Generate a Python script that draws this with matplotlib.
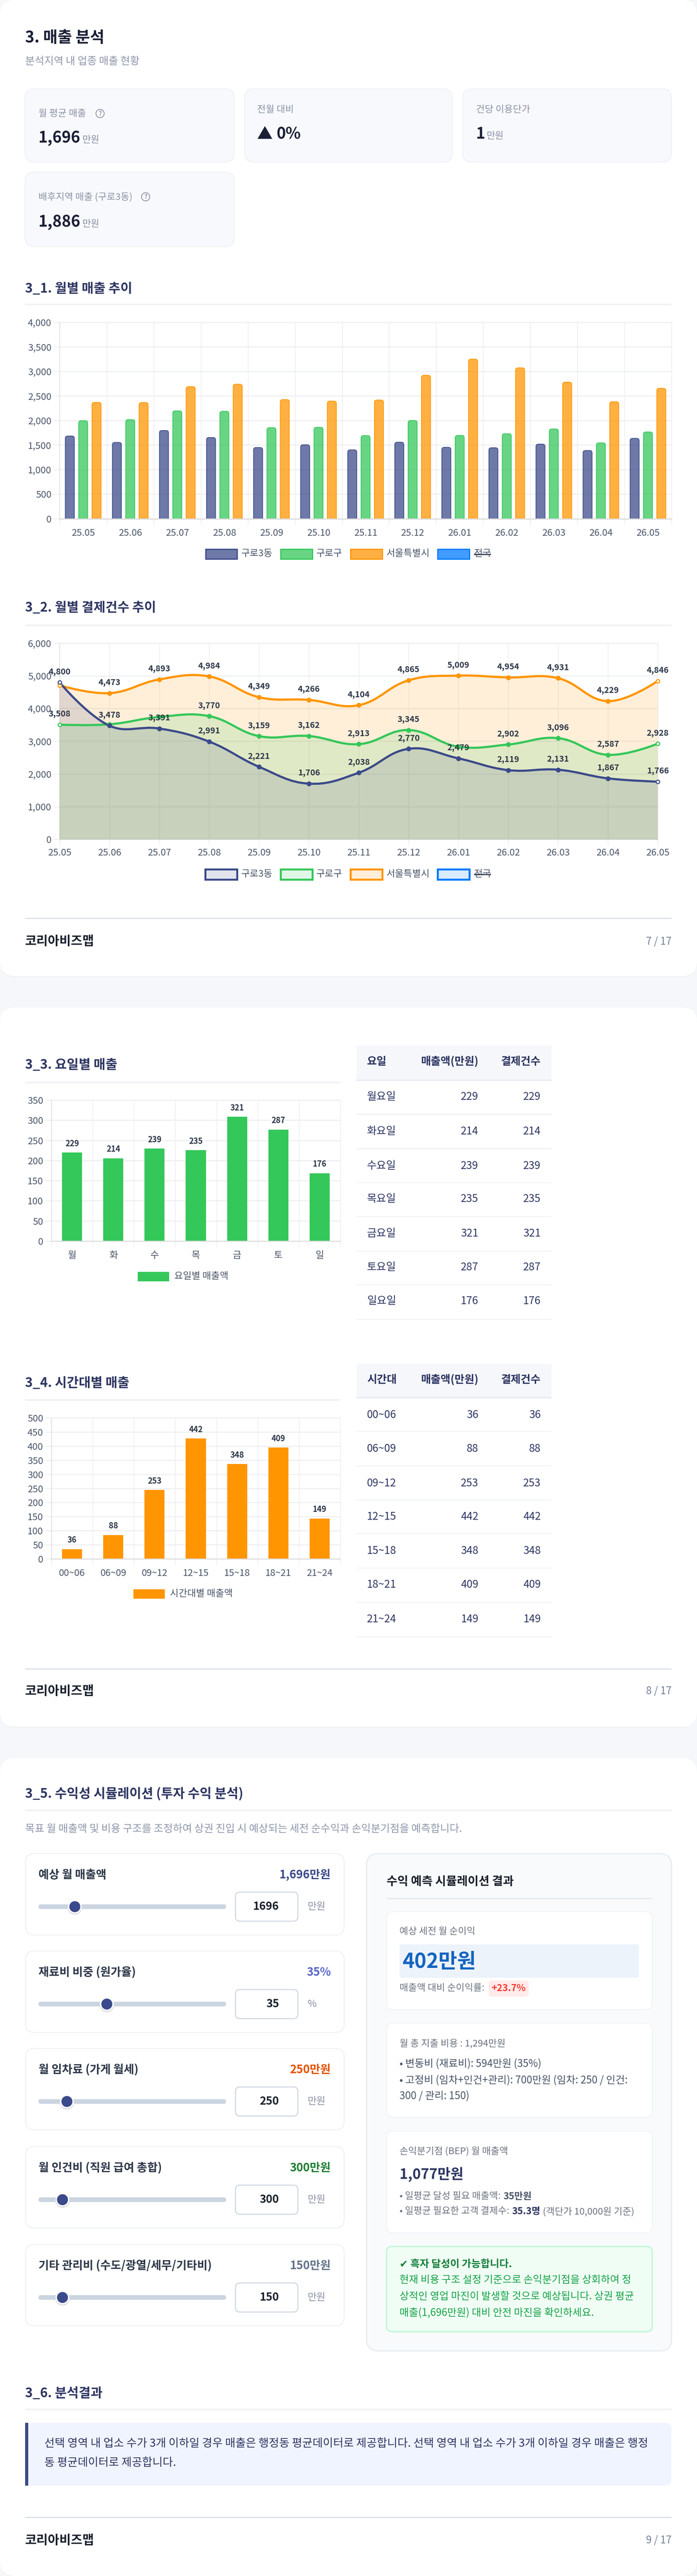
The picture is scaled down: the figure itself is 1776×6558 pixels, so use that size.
import matplotlib
matplotlib.use('Agg')
import matplotlib.pyplot as plt
from matplotlib.colors import to_rgba
from matplotlib.patches import Circle, FancyBboxPatch, PathPatch, Rectangle
from matplotlib.path import Path

plt.rcParams['font.family'] = ['Noto Sans CJK KR', 'DejaVu Sans']

W, H = 1776, 6558

# chart data
months = ['25.05', '25.06', '25.07', '25.08', '25.09', '25.10', '25.11',
          '25.12', '26.01', '26.02', '26.03', '26.04', '26.05']
legend_names = ['구로3동', '구로구', '서울특별시', '전국']

sales_dong = [1685, 1555, 1798, 1655, 1451, 1507, 1403, 1559, 1455, 1446, 1520, 1390, 1637]
sales_gu = [1998, 2020, 2198, 2189, 1855, 1863, 1694, 2002, 1698, 1733, 1829, 1546, 1768]
sales_city = [2371, 2367, 2693, 2741, 2428, 2397, 2419, 2923, 3253, 3075, 2784, 2384, 2658]

count_dong = [4800, 3478, 3391, 2991, 2221, 1706, 2038, 2770, 2479, 2119, 2131, 1867, 1766]
count_gu = [3508, 3520, 3745, 3770, 3159, 3162, 2913, 3345, 2835, 2902, 3096, 2587, 2928]
count_city = [4712, 4473, 4893, 4984, 4349, 4266, 4104, 4865, 5009, 4954, 4931, 4229, 4846]
# points whose value label is not shown in the chart
hidden_gu = [1, 2, 8]
hidden_city = [0]

days = ['월', '화', '수', '목', '금', '토', '일']
day_rows = ['월요일', '화요일', '수요일', '목요일', '금요일', '토요일', '일요일']
day_bars = [220, 206, 230, 226, 309, 277, 169]
day_labels = [229, 214, 239, 235, 321, 287, 176]

slots = ['00~06', '06~09', '09~12', '12~15', '15~18', '18~21', '21~24']
slot_bars = [35, 85, 245, 427, 337, 395, 144]
slot_labels = [36, 88, 253, 442, 348, 409, 149]

slider_names = ['예상 월 매출액', '재료비 비중 (원가율)', '월 임차료 (가게 월세)',
                '월 인건비 (직원 급여 총합)', '기타 관리비 (수도/광열/세무/기타비)']
slider_values = [1696, 35, 250, 300, 150]
slider_max = [10000, 100, 2000, 3000, 1500]
slider_units = ['만원', '%', '만원', '만원', '만원']
slider_shown = ['1,696만원', '35%', '250만원', '300만원', '150만원']

NAVY = '#3b4a8a'
GREEN = '#34c759'
ORANGE = '#ff9500'
BLUE = '#007aff'
TICK = '#4a5568'
HEAD = '#2d3561'
GRID_H = '#eceef1'
GRID_V = '#e8e8ea'

fig = plt.figure(figsize=(W / 100, H / 100), dpi=100, facecolor='#f5f7fa')
bg = fig.add_axes([0, 0, 1, 1])
bg.set_xlim(0, W)
bg.set_ylim(H, 0)
bg.axis('off')


def pt(px):
    return px * 0.72


def label(x, y, s, size, color, weight='normal', ha='left', va='center', **kw):
    return bg.text(x, y, s, fontsize=pt(size), color=color, fontweight=weight,
                   ha=ha, va=va, **kw)


def box(x0, y0, x1, y1, r, fc, ec='none', lw=0, z=1):
    bg.add_patch(FancyBboxPatch((x0, y0), x1 - x0, y1 - y0,
                                boxstyle=f'round,pad=0,rounding_size={r}',
                                fc=fc, ec=ec, lw=pt(lw), zorder=z))


def rule(x0, x1, y, color, lw):
    bg.add_patch(Rectangle((x0, y - lw / 2), x1 - x0, lw, fc=color, ec='none', zorder=2))


def section(y_text, y_rule, s, x1=1711):
    label(64, y_text, s, 33, HEAD, 'bold', zorder=3)
    rule(64, x1, y_rule, '#f0f1f6', 4)


def footer(y_line, y_text, page):
    rule(64, 1711, y_line, '#cbd5e0', 2.5)
    label(64, y_text, '코리아비즈맵', 32, '#1a202c', 'bold', zorder=3)
    label(1711, y_text, page, 26, '#718096', ha='right', zorder=3)


def segments(x, y, parts, size):
    # parts are (text, color, weight), drawn one after the other on a line
    renderer = fig.canvas.get_renderer()
    for s, color, weight in parts:
        t = label(x, y, s.strip(), size, color, weight, zorder=3)
        x += t.get_window_extent(renderer).width
        if s.endswith(' '):
            x += size * 0.26


def help_icon(x, y):
    bg.add_patch(Circle((x, y), 10.5, fc='none', ec='#8a92a6', lw=pt(2), zorder=3))
    label(x, y, '?', 15, '#8a92a6', 'bold', ha='center', zorder=4)


def chart_axes(x0, y0, x1, y1):
    ax = fig.add_axes([x0 / W, 1 - y1 / H, (x1 - x0) / W, (y1 - y0) / H])
    ax.patch.set_alpha(0)
    for name, spine in ax.spines.items():
        spine.set_visible(name in ('left', 'bottom'))
    ax.spines['left'].set_color('#dddddd')
    ax.spines['left'].set_linewidth(pt(1.5))
    ax.spines['bottom'].set_color('#dddddd')
    ax.spines['bottom'].set_linewidth(pt(3))
    ax.set_axisbelow(True)
    return ax


def style_ticks(ax, n_cat, yticks, xlabels, centered=True, xpad=24):
    ax.set_yticks(yticks)
    ax.set_yticklabels([f'{v:,}' for v in yticks])
    ax.tick_params(axis='y', length=pt(16), width=pt(2), color=GRID_H,
                   labelsize=pt(24), labelcolor=TICK, pad=pt(5))
    ax.grid(axis='y', color=GRID_H, lw=pt(2.5))
    ax.set_xticks(range(n_cat + 1) if centered else range(n_cat))
    ax.grid(axis='x', color=GRID_V, lw=pt(1.2))
    if centered:
        ax.set_xticklabels([])
        ax.set_xticks([i + 0.5 for i in range(n_cat)], labels=xlabels, minor=True)
        ax.tick_params(axis='x', which='major', length=pt(16), width=pt(1.2), color=GRID_V)
        ax.tick_params(axis='x', which='minor', length=0, labelsize=pt(24),
                       labelcolor=TICK, pad=pt(xpad))
    else:
        ax.set_xticklabels(xlabels)
        ax.tick_params(axis='x', length=pt(16), width=pt(1.2), color=GRID_V,
                       labelsize=pt(24), labelcolor=TICK, pad=pt(7))
    for line in ax.get_ygridlines() + ax.get_xgridlines():
        line.set_clip_on(False)


def rounded_bar(ax, left, width, value, color, rx, ry):
    right = left + width
    verts = [(left, 0), (left, value - ry), (left, value), (left + rx, value),
             (right - rx, value), (right, value), (right, value - ry), (right, 0)]
    codes = [Path.MOVETO, Path.LINETO, Path.CURVE3, Path.CURVE3,
             Path.LINETO, Path.CURVE3, Path.CURVE3, Path.LINETO]
    ax.add_patch(PathPatch(Path(verts, codes), fc=to_rgba(color, 0.74), ec=color, lw=pt(1.8)))


def spline_path(values, sx, sy, closed=False):
    # bezier segments with tension 0.4, worked out in pixel space
    pts = [(i * sx, v * sy) for i, v in enumerate(values)]
    n = len(pts)
    before, after = list(pts), list(pts)
    for i in range(1, n - 1):
        p0, p1, p2 = pts[i - 1], pts[i], pts[i + 1]
        d01 = ((p1[0] - p0[0]) ** 2 + (p1[1] - p0[1]) ** 2) ** 0.5
        d12 = ((p2[0] - p1[0]) ** 2 + (p2[1] - p1[1]) ** 2) ** 0.5
        s01 = d01 / (d01 + d12)
        s12 = d12 / (d01 + d12)
        before[i] = (p1[0] - 0.4 * s01 * (p2[0] - p0[0]), p1[1] - 0.4 * s01 * (p2[1] - p0[1]))
        after[i] = (p1[0] + 0.4 * s12 * (p2[0] - p0[0]), p1[1] + 0.4 * s12 * (p2[1] - p0[1]))
    verts = [pts[0]]
    codes = [Path.MOVETO]
    for i in range(n - 1):
        verts += [after[i], before[i + 1], pts[i + 1]]
        codes += [Path.CURVE4] * 3
    if closed:
        verts += [(pts[-1][0], 0), (pts[0][0], 0), pts[0]]
        codes += [Path.LINETO, Path.LINETO, Path.CLOSEPOLY]
    return Path([(x / sx, y / sy) for x, y in verts], codes)


def legend_row(y, entries, h, filled=True):
    for (x0, x1, tx, tx1, color, s) in entries:
        if filled:
            bg.add_patch(Rectangle((x0, y - h / 2), x1 - x0, h, fc=to_rgba(color, 0.74),
                                   ec=color, lw=pt(3), zorder=3))
        else:
            bg.add_patch(Rectangle((x0, y - h / 2), x1 - x0, h, fc=to_rgba(color, 0.15),
                                   ec=color, lw=pt(5), zorder=3))
        label(tx, y, s, 24, TICK, zorder=3)
        if s == '전국':
            rule(tx, tx1, y + 1, '#2d3748', 3)


def table(x0, x1, top, head_bottom, head_y, headers, rows, amounts, row_ys, rule_ys):
    bg.add_patch(Rectangle((x0, top), x1 - x0, head_bottom - top, fc='#f5f7fb', ec='none', zorder=2))
    rule(x0, x1, head_bottom + 2, '#e8ecf3', 4.5)
    label(935, head_y, headers[0], 27.5, HEAD, 'bold', zorder=3)
    label(1219, head_y, headers[1], 27.5, HEAD, 'bold', ha='right', zorder=3)
    label(1378, head_y, headers[2], 27.5, HEAD, 'bold', ha='right', zorder=3)
    for name, val, y in zip(rows, amounts, row_ys):
        label(935, y, name, 27, HEAD, zorder=3)
        label(1219, y, str(val), 27, HEAD, ha='right', zorder=3)
        label(1378, y, str(val), 27, HEAD, ha='right', zorder=3)
    for y in rule_ys:
        rule(x0, x1, y, '#eff1f5', 2.5)


def bar_panel(y0, y1, ymax, step, bars, labels, names, color, tick_pad):
    ax = chart_axes(131, y0, 867, y1)
    ax.bar([i + 0.5 for i in range(7)], bars, width=51 / 105, color=color, zorder=2)
    ax.set_xlim(0, 7)
    ax.set_ylim(0, ymax)
    style_ticks(ax, 7, list(range(0, ymax + 1, step)), names, xpad=tick_pad)
    ax.spines['bottom'].set_linewidth(pt(2.5))
    ppv = (y1 - y0) / ymax
    for i, (b, t) in enumerate(zip(bars, labels)):
        ax.text(i + 0.5, b + 23 / ppv, str(t), ha='center', va='center',
                fontsize=pt(20), fontweight='bold', color='#2d3748', clip_on=False)


# page cards
for top, bottom in [(0, 2485), (2565, 4396), (4476, 6558)]:
    box(0, top + 2, W, bottom + 2, 38, '#eef0f5', z=0)
    box(0, top, W, bottom, 38, 'white', z=0.5)

# header and KPI cards
label(64, 97, '3. 매출 분석', 40, '#1a1f36', 'bold', zorder=3)
label(64, 156, '분석지역 내 업종 매출 현황', 26.5, '#8f97aa', zorder=3)

for x0, y0, x1, y1 in [(64, 226, 597, 413), (623, 226, 1153, 413),
                       (1179, 226, 1711, 413), (64, 438, 597, 628)]:
    box(x0, y0, x1, y1, 24, '#f8f9fc', '#eef0f5', 2)

kpi_label, kpi_value = '#8a92a6', '#1a1f36'
label(98, 289, '월 평균 매출', 24, kpi_label, zorder=3)
help_icon(255, 289)
label(98, 363, '1,696', 40, kpi_value, 'bold', va='baseline', zorder=3)
label(210, 363, '만원', 24, kpi_label, va='baseline', zorder=3)

label(655, 279, '전월 대비', 24, kpi_label, zorder=3)
label(655, 353, '▲', 40, kpi_value, va='baseline', zorder=3)
label(704, 353, '0%', 40, kpi_value, 'bold', va='baseline', zorder=3)

label(1213, 279, '건당 이용단가', 24, kpi_label, zorder=3)
label(1213, 353, '1', 40, kpi_value, 'bold', va='baseline', zorder=3)
label(1240, 353, '만원', 24, kpi_label, va='baseline', zorder=3)

label(98, 501, '배후지역 매출 (구로3동)', 24, kpi_label, zorder=3)
help_icon(371, 501)
label(98, 577, '1,886', 40, kpi_value, 'bold', va='baseline', zorder=3)
label(210, 577, '만원', 24, kpi_label, va='baseline', zorder=3)

# 3_1 monthly sales
section(735, 775, '3_1. 월별 매출 추이')
ax1 = chart_axes(152, 821, 1711, 1320.5)
ppx = (1711 - 152) / 13
ppv1 = 499.5 / 4000
for i in range(13):
    for off, series, color in [(-34, sales_dong, NAVY), (0, sales_gu, GREEN), (34, sales_city, ORANGE)]:
        left = i + 0.5 + (off - 11.5) / ppx
        rounded_bar(ax1, left, 23 / ppx, series[i], color, 6 / ppx, 6 / ppv1)
ax1.set_xlim(0, 13)
ax1.set_ylim(0, 4000)
style_ticks(ax1, 13, list(range(0, 4001, 500)), months, xpad=25)

colors = [NAVY, GREEN, ORANGE, BLUE]
legend_row(1410, [(524, 604, 615, 694, colors[0], legend_names[0]),
                  (715, 796, 806, 873, colors[1], legend_names[1]),
                  (893, 974, 985, 1095, colors[2], legend_names[2]),
                  (1115, 1196, 1208, 1251, colors[3], legend_names[3])], 25)

# 3_2 monthly payment counts
section(1547, 1592, '3_2. 월별 결제건수 추이')
ax2 = chart_axes(152, 1637.5, 1676, 2137)
sx = (1676 - 152) / 12
sy = 499.5 / 6000
ax2.set_xlim(0, 12)
ax2.set_ylim(0, 6000)
style_ticks(ax2, 13, list(range(0, 6001, 1000)), months, centered=False)
ax2.spines['bottom'].set_linewidth(pt(1.5))
ax2.axvline(12, color=GRID_V, lw=pt(1.2), clip_on=False)
ax2.axhline(6000, color=GRID_H, lw=pt(2.5), clip_on=False)

xs = list(range(13))
line_series = [(count_city, ORANGE, hidden_city), (count_gu, GREEN, hidden_gu), (count_dong, NAVY, [])]
for series, color, _ in line_series:
    ax2.add_patch(PathPatch(spline_path(series, sx, sy, closed=True), fc=to_rgba(color, 0.15),
                            ec='none', zorder=3))
for series, color, _ in line_series:
    ax2.add_patch(PathPatch(spline_path(series, sx, sy), fc='none', ec=color, lw=pt(5.5),
                            clip_on=False, zorder=4, capstyle='round', joinstyle='round'))
    ax2.plot(xs[1:-1], series[1:-1], 'o', ms=pt(11), color=color, clip_on=False, zorder=5)
    ax2.plot([xs[0], xs[-1]], [series[0], series[-1]], 'o', ms=pt(9), mfc='#fdf3e6', mec=color,
             mew=pt(2.5), clip_on=False, zorder=5)
for series, color, hidden in line_series:
    for i, v in enumerate(series):
        if i not in hidden:
            ax2.text(i, v + 27 / sy, f'{v:,}', ha='center', va='center', fontsize=pt(21),
                     fontweight='bold', color='#2d3748', clip_on=False, zorder=6)

legend_row(2225.5, [(523, 604, 615, 694, colors[0], legend_names[0]),
                    (715, 796, 806, 873, colors[1], legend_names[1]),
                    (893, 974, 985, 1095, colors[2], legend_names[2]),
                    (1115, 1196, 1208, 1251, colors[3], legend_names[3])], 26, filled=False)
footer(2338, 2397, '7 / 17')

# 3_3 by weekday
section(2711, 2755.5, '3_3. 요일별 매출', x1=867)
bar_panel(2801, 3160, 350, 50, day_bars, day_labels, days, GREEN, 25)
bg.add_patch(Rectangle((351, 3238), 80, 24, fc=GREEN, ec='none', zorder=3))
label(444, 3250, '요일별 매출액', 24, TICK, zorder=3)
table(908, 1405, 2662, 2748, 2703, ['요일', '매출액(만원)', '결제건수'], day_rows, day_labels,
      [2793, 2880, 2968, 3053, 3140, 3227, 3313],
      [2836.5, 2924.5, 3011, 3097, 3185, 3271, 3359])

# 3_4 by time slot
section(3522, 3564, '3_4. 시간대별 매출', x1=867)
bar_panel(3610, 3969, 500, 50, slot_bars, slot_labels, slots, ORANGE, 25)
bg.add_patch(Rectangle((340, 4046), 80, 24, fc=ORANGE, ec='none', zorder=3))
label(433, 4057, '시간대별 매출액', 24, TICK, zorder=3)
table(908, 1405, 3472, 3556, 3513, ['시간대', '매출액(만원)', '결제건수'], slots, slot_labels,
      [3602, 3688, 3776, 3861.5, 3948, 4035, 4122],
      [3644, 3732, 3819, 3904, 3992, 4079, 4167])
footer(4249, 4306, '8 / 17')

# 3_5 simulation, sliders on the left
section(4566, 4609, '3_5. 수익성 시뮬레이션 (투자 수익 분석)')
label(64, 4656, '목표 월 매출액 및 비용 구조를 조정하여 상권 진입 시 예상되는 세전 순수익과 손익분기점을 예측합니다.',
      26.5, '#8f97aa', zorder=3)

card_tops = [4719, 4967, 5215, 5465, 5714]
value_colors = [NAVY, '#5a67c8', '#e65100', '#1e7e34', '#64748b']
for top, name, val, vmax, unit, shown, vc in zip(card_tops, slider_names, slider_values, slider_max,
                                                 slider_units, slider_shown, value_colors):
    box(65, top, 877, top + 207, 22, 'white', '#eff1f6', 2.5)
    label(98, top + 54, name, 29, '#2d3748', 'bold', zorder=3)
    label(843, top + 54, shown, 29, vc, 'bold', ha='right', zorder=3)
    cy = top + 135
    box(98, cy - 6, 576, cy + 6, 6, '#cbd5e1', z=2)
    tx = 114 + 452 * val / vmax
    bg.add_patch(Circle((tx, cy + 2), 18.5, fc='#d9dce3', ec='none', zorder=3))
    bg.add_patch(Circle((tx, cy), 17.5, fc='white', ec='none', zorder=3))
    bg.add_patch(Circle((tx, cy), 14, fc=NAVY, ec='none', zorder=4))
    box(600, cy - 37, 759, cy + 37, 11, 'white', '#cbd5e1', 2.5, z=2)
    label(711, cy, str(val), 28, '#1a202c', 'bold', ha='right', zorder=3)
    label(784, cy, unit, 25, '#8a92a6', zorder=3)

# result panel
box(934, 4719, 1711, 5985, 30, '#f8fafc', '#e6ebf2', 3)
label(985, 4790, '수익 예측 시뮬레이션 결과', 30, '#1a202c', 'bold', zorder=3)
rule(985, 1662, 4833, '#e2e8f0', 3)

box(985, 4867, 1662, 5116, 16, 'white', '#eff2f6', 2, z=1.5)
label(1018, 4918, '예상 세전 월 순이익', 24, '#6b7280', zorder=3)
box(1018, 4950, 1628, 5035, 6, '#edf3fb', z=2)
label(1026, 4994, '402만원', 52, '#1565c0', 'bold', zorder=3)
label(1018, 5062, '매출액 대비 순이익률:', 24, '#6b7280', zorder=3)
box(1245, 5042, 1347, 5083, 8, '#ffebeb', z=2)
label(1296, 5062, '+23.7%', 24, '#ff3b30', 'bold', ha='center', zorder=3)

box(985, 5151, 1662, 5390, 16, 'white', '#eff2f6', 2, z=1.5)
label(1018, 5202, '월 총 지출 비용 : 1,294만원', 24, '#6b7280', zorder=3)
label(1018, 5254, '• 변동비 (재료비): 594만원 (35%)', 26, '#4a5568', zorder=3)
label(1018, 5296, '• 고정비 (임차+인건+관리): 700만원 (임차: 250 / 인건:', 26, '#4a5568', zorder=3)
label(1018, 5336, '300 / 관리: 150)', 26, '#4a5568', zorder=3)

box(985, 5425, 1662, 5684, 16, 'white', '#eff2f6', 2, z=1.5)
label(1018, 5477, '손익분기점 (BEP) 월 매출액', 24, '#6b7280', zorder=3)
label(1018, 5536, '1,077만원', 36, HEAD, 'bold', zorder=3)
segments(1018, 5592, [('• 일평균 달성 필요 매출액: ', '#6b7280', 'normal'), ('35만원', '#4a5568', 'bold')], 24)
segments(1018, 5630, [('• 일평균 필요한 고객 결제수: ', '#6b7280', 'normal'), ('35.3명 ', HEAD, 'bold'),
                      ('(객단가 10,000원 기준)', '#6b7280', 'normal')], 24)

box(985, 5719, 1662, 5936, 14, '#f0fdf4', '#bbf7d0', 3)
label(1018, 5764, '✔ 흑자 달성이 가능합니다.', 26, '#15803d', 'bold', zorder=3)
label(1018, 5804, '현재 비용 구조 설정 기준으로 손익분기점을 상회하여 정', 26, '#16a34a', zorder=3)
label(1018, 5846, '상적인 영업 마진이 발생할 것으로 예상됩니다. 상권 평균', 26, '#16a34a', zorder=3)
label(1018, 5888, '매출(1,696만원) 대비 안전 마진을 확인하세요.', 26, '#16a34a', zorder=3)

# 3_6 note
section(6093, 6134, '3_6. 분석결과')
box(64, 6168, 1711, 6328, 16, '#f0f4ff')
bg.add_patch(Rectangle((64, 6168), 30, 160, fc='#f0f4ff', ec='none', zorder=1.5))
bg.add_patch(Rectangle((64, 6168), 8, 160, fc=NAVY, ec='none', zorder=2))
label(113, 6221, '선택 영역 내 업소 수가 3개 이하일 경우 매출은 행정동 평균데이터로 제공합니다. 선택 영역 내 업소 수가 3개 이하일 경우 매출은 행정',
      28.5, HEAD, zorder=3)
label(113, 6270, '동 평균데이터로 제공합니다.', 28.5, HEAD, zorder=3)
footer(6409, 6468, '9 / 17')

fig.savefig('out.png', dpi=100, facecolor=fig.get_facecolor())
